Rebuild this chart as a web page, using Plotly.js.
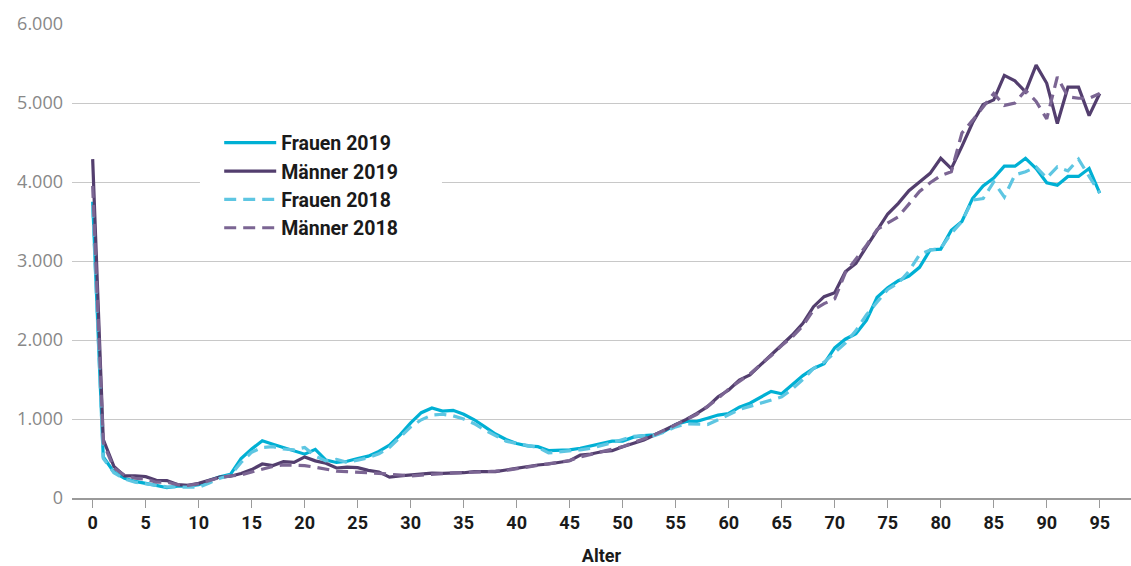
<!DOCTYPE html>
<html>
<head>
<meta charset="utf-8">
<script src="https://cdn.plot.ly/plotly-3.0.1.min.js"></script>
<style>
  html, body { margin: 0; padding: 0; background: #ffffff; }
  #chart { width: 1131px; height: 566px; }
</style>
</head>
<body>
<div id="chart"></div>
<script>
const ages = [0,1,2,3,4,5,6,7,8,9,10,11,12,13,14,15,16,17,18,19,20,21,22,23,24,25,26,27,28,29,30,31,32,33,34,35,36,37,38,39,40,41,42,43,44,45,46,47,48,49,50,51,52,53,54,55,56,57,58,59,60,61,62,63,64,65,66,67,68,69,70,71,72,73,74,75,76,77,78,79,80,81,82,83,84,85,86,87,88,89,90,91,92,93,94,95];

const frauen2019 = [3750,520,330,250,210,190,160,130,150,150,170,220,270,300,500,620,725,680,640,600,555,616,480,450,465,500,530,590,670,800,950,1080,1140,1100,1110,1060,990,900,810,740,690,660,650,600,600,610,630,660,690,720,720,770,790,800,850,930,970,970,1010,1050,1070,1150,1200,1280,1350,1320,1440,1550,1640,1700,1900,2010,2080,2250,2540,2660,2750,2810,2920,3140,3150,3390,3500,3790,3950,4050,4200,4200,4300,4170,3990,3960,4070,4070,4170,3860];

const maenner2019 = [4290,740,400,280,280,270,225,220,170,160,185,230,265,275,310,360,430,410,460,450,520,470,440,380,390,385,350,330,265,280,295,310,315,312,312,320,333,333,335,354,376,405,418,430,451,472,544,557,586,599,650,692,734,797,861,924,996,1072,1156,1282,1367,1494,1557,1684,1810,1937,2063,2211,2422,2549,2599,2865,2970,3181,3392,3595,3730,3890,4000,4110,4300,4170,4450,4750,4980,5040,5350,5280,5140,5480,5250,4740,5200,5200,4840,5120];

const frauen2018 = [3700,500,320,240,200,180,170,140,140,140,135,190,250,290,450,580,640,650,620,610,640,530,470,490,450,480,510,560,640,770,900,990,1050,1060,1040,1000,940,860,790,720,690,660,640,570,580,590,610,630,660,700,740,780,790,790,840,900,940,930,930,990,1060,1120,1160,1200,1250,1280,1380,1500,1640,1720,1840,1960,2120,2320,2480,2640,2720,2870,3080,3140,3160,3350,3500,3770,3790,4000,3810,4090,4130,4190,4050,4190,4140,4290,4070,3860];

const maenner2018 = [3950,700,380,290,250,240,200,200,170,160,180,220,260,280,290,330,370,400,420,420,410,390,360,340,333,330,320,312,300,285,280,290,300,312,318,320,325,330,340,350,370,395,410,430,450,475,520,550,580,610,650,700,745,800,860,925,990,1060,1160,1260,1380,1480,1570,1690,1800,1930,2040,2180,2380,2460,2520,2850,3030,3200,3400,3480,3560,3720,3880,3990,4080,4130,4620,4780,4950,5120,4970,5000,5160,5020,4800,5330,5080,5060,5060,5120];

const seriesNames = ["Frauen 2019", "Männer 2019", "Frauen 2018", "Männer 2018"];
const xTicks = [0,5,10,15,20,25,30,35,40,45,50,55,60,65,70,75,80,85,90,95];
const yTicks = [0,1000,2000,3000,4000,5000,6000];

const styles = [
  {color: "#00b0d4", dash: "solid"},
  {color: "#533e6e", dash: "solid"},
  {color: "#5ec6e2", dash: "12px,7px"},
  {color: "#7b6593", dash: "12px,7px"}
];
const values = [frauen2019, maenner2019, frauen2018, maenner2018];

const traces = values.map((v, i) => ({
  type: "scatter",
  mode: "lines",
  x: ages,
  y: v,
  name: seriesNames[i],
  line: {color: styles[i].color, width: 3.2, dash: styles[i].dash},
  hoverinfo: "skip"
}));

const layout = {
  width: 1131,
  height: 566,
  margin: {l: 72, r: 0, t: 24, b: 68},
  paper_bgcolor: "#ffffff",
  plot_bgcolor: "#ffffff",
  separators: ",.",
  showlegend: true,
  legend: {
    x: 0.139, xanchor: "left",
    y: 0.79, yanchor: "top",
    bgcolor: "#ffffff",
    borderwidth: 0,
    font: {family: "Roboto, sans-serif", size: 19.5, weight: 700, color: "#1a1a1a"},
    itemwidth: 52,
    tracegroupgap: 0
  },
  shapes: [{
    type: "rect", xref: "x", yref: "y",
    x0: 10.12, x1: 32.95, y0: 3950, y1: 4050,
    fillcolor: "#ffffff", line: {width: 0}, layer: "between"
  }],
  xaxis: {
    range: [-1.95, 97.95],
    tickvals: xTicks,
    ticktext: xTicks.map(String),
    ticks: "outside",
    ticklen: 8,
    tickwidth: 1.5,
    tickcolor: "#9a9a9a",
    showline: true,
    linecolor: "#9a9a9a",
    linewidth: 1.5,
    showgrid: false,
    zeroline: false,
    tickfont: {family: "Roboto, sans-serif", size: 18, weight: 700, color: "#1a1a1a"},
    title: {text: "Alter", font: {family: "Roboto, sans-serif", size: 18, weight: 700, color: "#1a1a1a"}, standoff: 20}
  },
  yaxis: {
    range: [0, 6000],
    tickvals: yTicks,
    tickformat: ",d",
    showgrid: true,
    gridcolor: "#c8c8c8",
    gridwidth: 1,
    zeroline: false,
    showline: false,
    ticks: "",
    ticklabelstandoff: 8,
    tickfont: {family: "Open Sans, sans-serif", size: 18, color: "#888888"}
  }
};

Plotly.newPlot("chart", traces, layout, {displayModeBar: false, staticPlot: true});
</script>
</body>
</html>
